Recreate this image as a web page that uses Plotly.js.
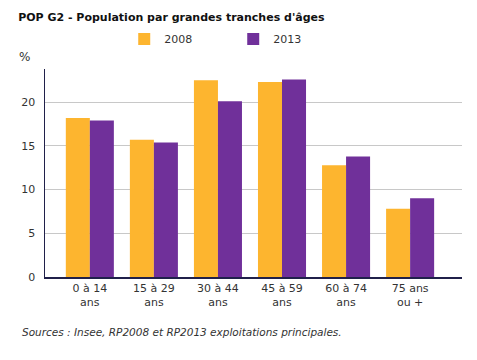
<!DOCTYPE html>
<html>
<head>
<meta charset="utf-8">
<script src="https://cdn.plot.ly/plotly-3.0.1.min.js"></script>
<style>html,body{margin:0;padding:0;background:#fff;}#chart{width:477px;height:360px;}</style>
</head>
<body>
<div id="chart"></div>
<script>
const categories = ["0 à 14<br>ans", "15 à 29<br>ans", "30 à 44<br>ans", "45 à 59<br>ans", "60 à 74<br>ans", "75 ans<br>ou +"];
const seriesNames = ["2008", "2013"];
const values2008 = [18.2, 15.7, 22.5, 22.3, 12.8, 7.8];
const values2013 = [17.9, 15.4, 20.1, 22.6, 13.8, 9.0];
const yTicks = [0, 5, 10, 15, 20];

const font = "Verdana, 'DejaVu Sans', sans-serif";
const data = [
  {type: "bar", name: seriesNames[0], x: categories, y: values2008, marker: {color: "#FDB52F"}, hoverinfo: "none"},
  {type: "bar", name: seriesNames[1], x: categories, y: values2013, marker: {color: "#70309A"}, hoverinfo: "none"}
];
const layout = {
  width: 477, height: 360,
  margin: {l: 45, r: 15, t: 69, b: 83},
  paper_bgcolor: "#fff", plot_bgcolor: "#fff",
  font: {family: font, size: 11, color: "#333"},
  barmode: "group", bargap: 0.25, bargroupgap: 0,
  showlegend: true,
  legend: {orientation: "h", x: 0.19, xanchor: "left", y: 1.144, yanchor: "middle", font: {size: 11, color: "#333"}, itemwidth: 30, tracegroupgap: 0, entrywidth: 64},
  title: {text: "<b>POP G2 - Population par grandes tranches d'âges</b>", x: 0.038, xanchor: "left", y: 0.953, yanchor: "middle", font: {family: font, size: 11, color: "#111"}},
  xaxis: {type: "category", range: [-0.70, 5.81], showline: true, linecolor: "#20204a", linewidth: 1.5, ticks: "", tickfont: {size: 11, color: "#333"}, showgrid: false, fixedrange: true},
  yaxis: {range: [0, 23.8], tickvals: yTicks, showline: true, linecolor: "#20204a", linewidth: 1.5, gridcolor: "#c8c8c8", gridwidth: 1, zeroline: false, ticks: "", ticklabelstandoff: 6, tickfont: {size: 11, color: "#333"}, fixedrange: true},
  annotations: [
    {text: "%", xref: "paper", yref: "paper", x: -0.048, y: 1.014, xanchor: "center", yanchor: "bottom", showarrow: false, font: {size: 12, color: "#333"}},
    {text: "<i>Sources : Insee, RP2008 et RP2013 exploitations principales.</i>", xref: "paper", yref: "paper", x: -0.06, xanchor: "left", y: -0.226, yanchor: "top", showarrow: false, font: {size: 10.5, color: "#333"}}
  ]
};
Plotly.newPlot("chart", data, layout, {displayModeBar: false, staticPlot: true});
</script>
</body>
</html>
